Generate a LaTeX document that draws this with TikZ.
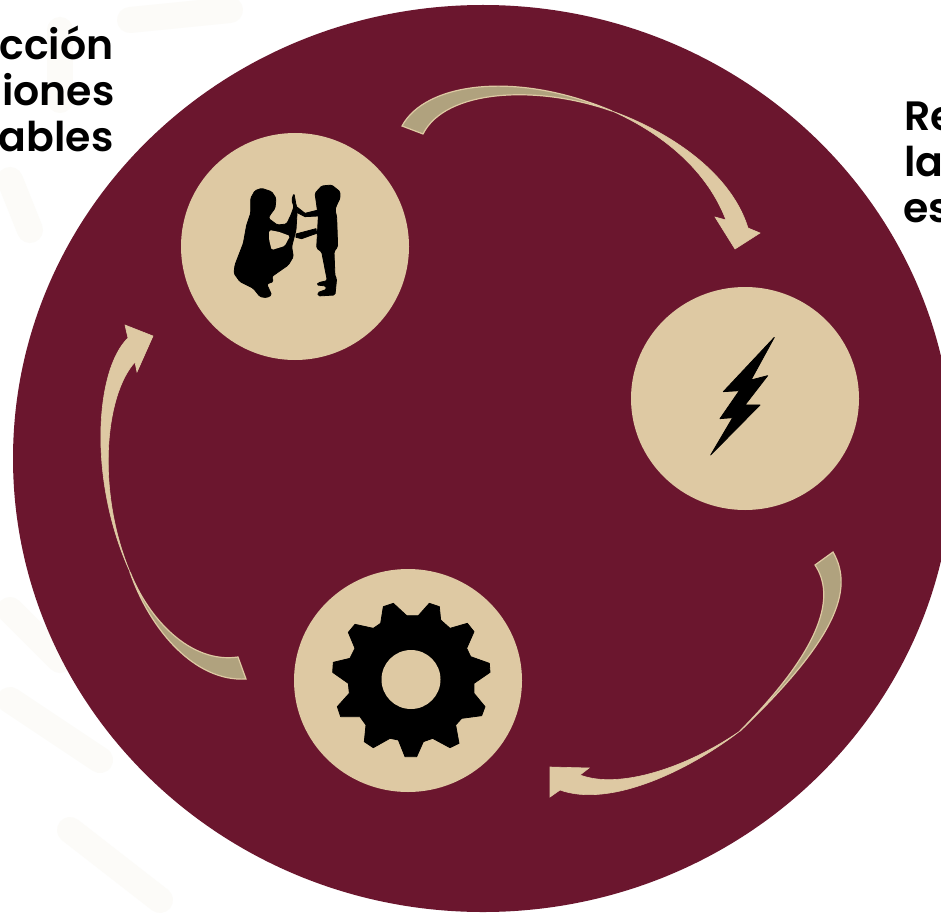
\documentclass[tikz,border=0pt]{standalone}
\usepackage{fontspec}
\usetikzlibrary{shapes.geometric}
\newfontfamily\labfont{Poppins SemiBold}
\definecolor{maroon}{HTML}{6B162E}
\definecolor{sand}{HTML}{DEC9A3}
\definecolor{backsand}{HTML}{B0A27E}
\definecolor{ghost}{HTML}{FCFBF8}
\tikzset{
  disc/.style={ellipse,fill=#1,draw=none,inner sep=0pt,outer sep=0pt},
  lab/.style={font=\labfont\fontsize{41}{41}\selectfont,text=black,inner sep=0pt,outer sep=0pt},
  ribbonback/.style={fill=backsand,draw=sand,line width=1.2pt,line join=miter},
  ribbonfront/.style={fill=sand,draw=sand,line width=.6pt,line join=miter},
  glyph/.style={fill=black,draw=black,line width=.8pt,line join=round},
  ghostline/.style={draw=ghost,line width=26pt,line cap=round},
  pxzoom/.style={x=.3333pt,y=-.3333pt}
}
\begin{document}
\begin{tikzpicture}[x=1pt,y=-1pt]
\useasboundingbox (0,0) rectangle (941,912);
\clip (0,0) rectangle (941,912);
\fill[white] (0,0) rectangle (941,912);
% faint background marks
\draw[ghostline] (10,610) -- (60,660);
\draw[ghostline] (10,700) -- (100,760);
\draw[ghostline] (70,830) -- (160,900);
\draw[ghostline] (10,180) -- (30,230);
\draw[ghostline] (130,20) -- (230,10);
\draw[ghostline] (60,30) -- (60,100);
% main disc
\node[disc=maroon,minimum width=940pt,minimum height=907pt] (main) at (483,458.5) {};
% icon discs
\node[disc=sand,minimum width=228pt,minimum height=227pt] (care) at (295,246.5) {};
\node[disc=sand,minimum width=228pt,minimum height=223pt] (power) at (745,398.5) {};
\node[disc=sand,minimum width=228pt,minimum height=223pt] (gear) at (408,680.5) {};
% top arrow
\coordinate (ca) at (612,111);
\draw[ribbonback] (402,126) .. controls (425,83) and (515,70) .. (ca)
   .. controls (535,84) and (445,90) .. (423,134) -- cycle;
\draw[ribbonfront] (ca) .. controls (665,130) and (730,170) .. (748,228)
   -- (760,233) -- (735,249) -- (715,217) -- (726,220)
   .. controls (705,165) and (655,130) .. (ca) -- cycle;
% right arrow
\coordinate (cb) at (740,731);
\draw[ribbonback] (833,552) .. controls (855,590) and (835,640) .. (cb)
   .. controls (825,645) and (835,595) .. (815,565) -- cycle;
\draw[ribbonfront] (cb) .. controls (688,767) and (620,790) .. (580,775)
   -- (589,768) -- (550,767) -- (550,797) -- (560,790)
   .. controls (610,808) and (688,771) .. (cb) -- cycle;
% left arrow
\coordinate (cc) at (130,572);
\draw[ribbonback] (246,679) .. controls (195,682) and (150,630) .. (cc)
   .. controls (148,618) and (190,664) .. (238,657) -- cycle;
\draw[ribbonfront] (cc) .. controls (88,480) and (95,370) .. (128,338)
   -- (125,325) -- (153,336) -- (137,372) -- (135,362)
   .. controls (105,395) and (96,490) .. (cc) -- cycle;
% people silhouette
\begin{scope}[shift={(190,150)},pxzoom]
\draw[glyph,rounded corners=1.5pt] (215,115) -- (245,125) -- (258,145) -- (255,175) -- (240,195) -- (235,205) -- (262,225) -- (290,222) -- (303,195) -- (312,170) -- (305,150) -- (312,130) -- (318,165) -- (322,175) -- (318,240) -- (305,290) -- (310,320) -- (295,345) -- (245,380) -- (250,395) -- (230,402) -- (245,435) -- (230,443) -- (210,440) -- (190,415) -- (150,395) -- (132,370) -- (135,345) -- (160,280) -- (170,225) -- (182,190) -- (182,145) -- (195,122) -- cycle;
\draw[glyph,rounded corners=1.5pt] (375,130) -- (395,108) -- (425,105) -- (450,125) -- (450,145) -- (440,165) -- (435,180) -- (440,200) -- (443,290) -- (432,305) -- (435,380) -- (440,385) -- (435,435) -- (385,438) -- (383,428) -- (410,418) -- (408,408) -- (380,405) -- (385,398) -- (412,392) -- (395,305) -- (380,295) -- (385,200) -- (378,150) -- cycle;
\draw[glyph] (322,172) -- (345,190) -- (385,180) -- (385,198) -- (345,200) -- (322,188) -- cycle;
\draw[glyph] (318,252) -- (378,236) -- (380,250) -- (335,266) -- (318,262) -- cycle;
\fill[sand,rounded corners=1.5pt] (238,240) -- (268,246) -- (300,258) -- (284,288) -- (245,300) -- (237,268) -- cycle;
\end{scope}
% lightning bolt
\begin{scope}[shift={(690,320)},pxzoom]
\draw[glyph] (253,52) -- (183,180) -- (233,167) -- (165,255) -- (210,255) -- (62,405) -- (128,293) -- (90,296) -- (148,212) -- (100,215) -- cycle;
\end{scope}
% gear
\begin{scope}[shift={(310,585)},pxzoom]
\draw[glyph] (250,55) -- (290,92) -- (325,92) -- (358,55) -- (388,65) -- (392,105) -- (420,130) -- (472,115) -- (492,140) -- (470,190) -- (482,215) -- (538,235) -- (540,262) -- (492,295) -- (492,325) -- (525,365) -- (515,392) -- (455,400) -- (437,420) -- (447,475) -- (420,488) -- (368,460) -- (340,470) -- (320,515) -- (285,515) -- (265,465) -- (240,460) -- (190,488) -- (163,470) -- (168,420) -- (150,395) -- (92,395) -- (82,365) -- (118,325) -- (115,295) -- (68,262) -- (70,232) -- (120,220) -- (135,190) -- (115,142) -- (135,118) -- (190,130) -- (212,115) -- (220,65) -- cycle;
\end{scope}
\node[disc=sand,minimum size=59pt] (hub) at (411,679.5) {};
% labels
\node[lab,anchor=base east] (l1) at (113.5,59.5) {cción};
\node[lab,anchor=base east] (l2) at (114.5,105.5) {iones};
\node[lab,anchor=base east] (l3) at (113.5,151.5) {ables};
\node[lab,anchor=base west] (r1) at (904,130.5) {Re};
\node[lab,anchor=base west] (r2) at (904,176.5) {la};
\node[lab,anchor=base west] (r3) at (903,222.5) {es};
\end{tikzpicture}
\end{document}
